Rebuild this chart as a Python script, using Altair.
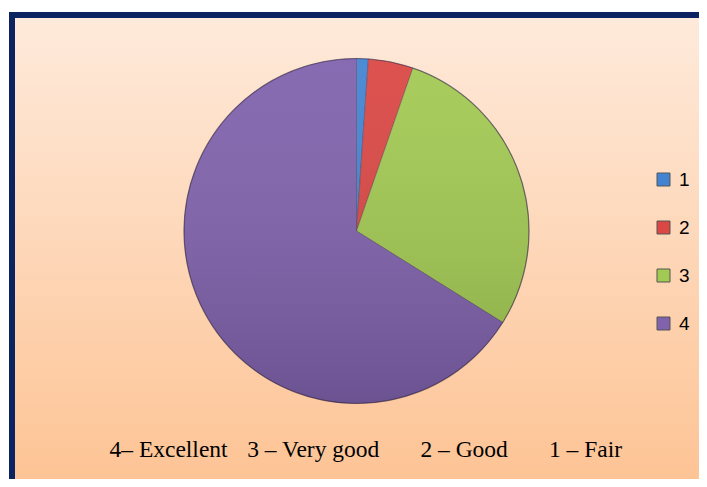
import altair as alt
import pandas as pd

categories = ["1", "2", "3", "4"]
values = [1.1, 4.2, 28.6, 66.1]
colors = ["#4384D2", "#DA4744", "#A2C952", "#8062AD"]
NB = "\u00a0"
caption = ("4\u2013 Excellent" + NB * 3 + "\u200a" + "3 \u2013 Very good" + NB * 7 +
           "2 \u2013 Good" + NB * 7 + "1 \u2013 Fair")

df = pd.DataFrame({"cat": categories, "value": values, "ord": list(range(len(categories)))})
one = pd.DataFrame({"k": [0]})

W, H = 691, 471
CX, CY, R = 348.5, 223, 172.5

bg = alt.Chart(one).mark_rect(
    fill=alt.LinearGradient(
        gradient="linear", x1=0, y1=0, x2=0, y2=1,
        stops=[alt.GradientStop(offset=0, color="#FEEADB"),
               alt.GradientStop(offset=1, color="#FDC190")]),
    stroke="#0B2461", strokeWidth=6,
).encode(x=alt.value(4), x2=alt.value(712), y=alt.value(7), y2=alt.value(505))

pie = alt.Chart(df).mark_arc(
    outerRadius=R, stroke="#3a2a4a", strokeOpacity=0.35, strokeWidth=1
).encode(
    theta=alt.Theta("value:Q", stack=True),
    order=alt.Order("ord:Q"),
    color=alt.Color(
        "cat:N",
        scale=alt.Scale(domain=categories, range=colors),
        legend=alt.Legend(
            title=None, orient="none", legendX=646, legendY=162,
            symbolType="square", symbolSize=169, symbolStrokeWidth=1,
            symbolStrokeColor="#555555",
            labelFont="Liberation Sans", labelFontSize=19, labelColor="#000000",
            labelOffset=6, rowPadding=28, padding=0, offset=0,
        ),
    ),
    x=alt.value(CX), y=alt.value(CY),
)

shade = alt.Chart(one).mark_arc(
    outerRadius=R, theta=0, theta2=6.2832,
    fill=alt.LinearGradient(
        gradient="linear", x1=0, y1=0, x2=0, y2=1,
        stops=[alt.GradientStop(offset=0, color="rgba(255,255,255,0.06)"),
               alt.GradientStop(offset=1, color="rgba(0,0,0,0.16)")]),
    stroke="rgba(40,30,60,0.45)", strokeWidth=1.2,
).encode(x=alt.value(CX), y=alt.value(CY))

cap = alt.Chart(pd.DataFrame({"t": [caption]})).mark_text(
    font="Liberation Serif", fontSize=23.5, color="#000000",
    align="left", baseline="alphabetic",
).encode(text="t:N", x=alt.value(101.5), y=alt.value(448.5))

chart = alt.layer(bg, pie, shade, cap).properties(
    width=W, height=H, padding=0, background="white",
    autosize=alt.AutoSizeParams(type="none"),
).configure_view(stroke=None)

chart.save("out.html", embed_options={"renderer": "svg", "actions": False})
